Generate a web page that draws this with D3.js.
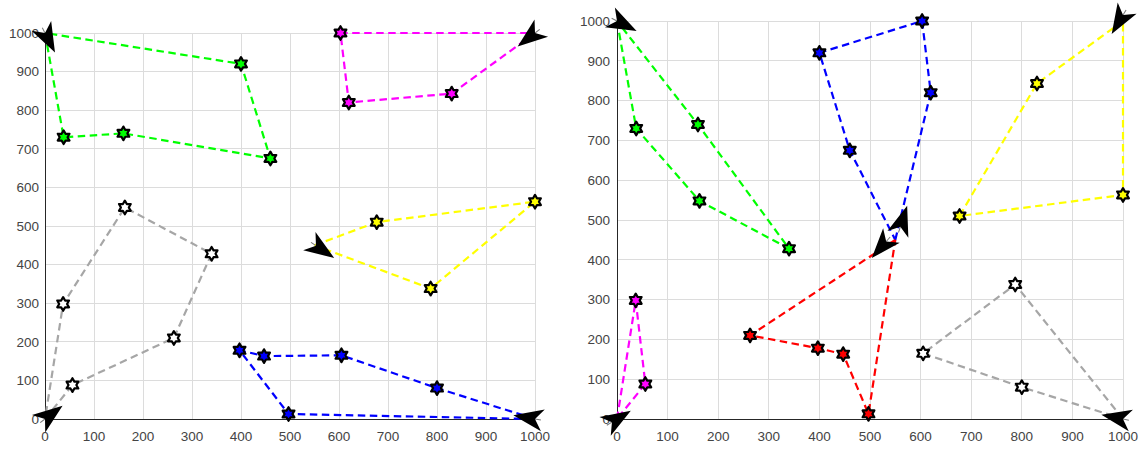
<!DOCTYPE html>
<html>
<head>
<meta charset="utf-8">
<script src="https://cdn.jsdelivr.net/npm/d3@7"></script>
<style>
  html, body { margin: 0; padding: 0; background: #fff; }
  svg { display: block; }
  text { font-family: "Liberation Sans", Arial, Helvetica, sans-serif; }
</style>
</head>
<body>
<svg id="chart" width="1146" height="450"></svg>
<script>
// ---------- data ----------
const tickValues = [0, 100, 200, 300, 400, 500, 600, 700, 800, 900, 1000];
const tickLabels = ["0", "100", "200", "300", "400", "500", "600", "700", "800", "900", "1000"];

// Left panel routes (depot -> customers -> depot)
const leftGreen   = [[0, 1000], [38, 730], [160, 740], [460, 675], [400, 920], [0, 1000]];
const leftMagenta = [[1000, 1000], [830, 843], [620, 820], [603, 1000], [1000, 1000]];
const leftYellow  = [[550, 450], [677, 510], [1000, 563], [787, 338], [550, 450]];
const leftBlue    = [[1000, 0], [800, 80], [605, 165], [447, 163], [397, 178], [497, 13], [1000, 0]];
const leftGray    = [[0, 0], [56, 88], [263, 210], [340, 428], [163, 548], [37, 298], [0, 0]];

// Right panel routes
const rightGreen   = [[0, 1000], [38, 730], [163, 548], [340, 428], [160, 740], [0, 1000]];
const rightBlue    = [[550, 450], [620, 820], [603, 1000], [400, 920], [460, 675], [550, 450]];
const rightYellow  = [[1000, 1000], [830, 843], [677, 510], [1000, 563], [1000, 1000]];
const rightMagenta = [[0, 0], [37, 298], [56, 88], [0, 0]];
const rightRed     = [[550, 450], [263, 210], [397, 178], [447, 163], [497, 13], [550, 450]];
const rightGray    = [[1000, 0], [787, 338], [605, 165], [800, 80], [1000, 0]];

// Depot arrows: [x, y, heading in degrees]
const leftArrows  = [[0, 1000, 63], [1000, 1000, 142], [0, 0, -37], [1000, 0, 190], [553, 449, 34]];
const rightArrows = [[0, 1000, 27], [1000, 1015, 121], [-10, -8, -31], [1000, 0, 191], [560, 483, -72], [532, 446, 131]];

// ---------- styles ----------
const colors = { green: "#00ff00", magenta: "#ff00ff", yellow: "#ffff00", blue: "#0000ff", gray: "#a6a6a6", red: "#ff0000" };

const panels = [
  { x0: 45, x1: 535, y0: 419, y1: 33,
    routes: [[leftGreen, "green"], [leftMagenta, "magenta"], [leftYellow, "yellow"], [leftBlue, "blue"], [leftGray, "gray"]],
    arrows: leftArrows, labelGap: 6 },
  { x0: 617, x1: 1123, y0: 419, y1: 21,
    routes: [[rightGreen, "green"], [rightBlue, "blue"], [rightYellow, "yellow"], [rightMagenta, "magenta"], [rightRed, "red"], [rightGray, "gray"]],
    arrows: rightArrows, labelGap: 7 }
];

const svg = d3.select("#chart");
svg.append("rect").attr("width", 1146).attr("height", 450).attr("fill", "#fff");

function hexagram(R) {
  const r = R / Math.sqrt(3);
  const pts = [];
  for (let i = 0; i < 12; i++) {
    const a = -Math.PI / 2 + i * Math.PI / 6;
    const rad = i % 2 === 0 ? R : r;
    pts.push([rad * Math.cos(a), rad * Math.sin(a)]);
  }
  return "M" + pts.map(p => p[0].toFixed(2) + "," + p[1].toFixed(2)).join("L") + "Z";
}
const starPath = hexagram(6.8);

panels.forEach(p => {
  const x = d3.scaleLinear().domain([0, 1000]).range([p.x0, p.x1]);
  const y = d3.scaleLinear().domain([0, 1000]).range([p.y0, p.y1]);
  const g = svg.append("g");

  // grid
  g.selectAll(".vg").data(tickValues).join("line")
    .attr("x1", d => x(d)).attr("x2", d => x(d))
    .attr("y1", y(0)).attr("y2", y(1000))
    .attr("stroke", "#dcdcdc").attr("stroke-width", 1).attr("shape-rendering", "crispEdges");
  g.selectAll(".hg").data(tickValues).join("line")
    .attr("y1", d => y(d)).attr("y2", d => y(d))
    .attr("x1", x(0)).attr("x2", x(1000))
    .attr("stroke", "#dcdcdc").attr("stroke-width", 1).attr("shape-rendering", "crispEdges");

  // axes (left and bottom)
  g.append("line").attr("x1", x(0)).attr("x2", x(0)).attr("y1", y(0)).attr("y2", y(1000))
    .attr("stroke", "#262626").attr("stroke-width", 1).attr("shape-rendering", "crispEdges");
  g.append("line").attr("x1", x(0)).attr("x2", x(1000)).attr("y1", y(0)).attr("y2", y(0))
    .attr("stroke", "#262626").attr("stroke-width", 1).attr("shape-rendering", "crispEdges");

  // tick labels
  g.selectAll(".xl").data(tickValues).join("text")
    .attr("x", d => x(d)).attr("y", y(0) + 22)
    .attr("text-anchor", "middle").attr("font-size", 13.5).attr("fill", "#444")
    .text((d, i) => tickLabels[i]);
  g.selectAll(".yl").data(tickValues).join("text")
    .attr("x", x(0) - p.labelGap).attr("y", d => y(d)).attr("dy", "0.35em")
    .attr("text-anchor", "end").attr("font-size", 13.5).attr("fill", "#444")
    .text((d, i) => tickLabels[i]);

  const line = d3.line().x(d => x(d[0])).y(d => y(d[1]));

  // route lines
  p.routes.forEach(([pts, c]) => {
    g.append("path").attr("d", line(pts))
      .attr("fill", "none").attr("stroke", colors[c]).attr("stroke-width", 2.2)
      .attr("stroke-dasharray", "7.5,4.5");
  });

  // customer markers
  p.routes.forEach(([pts, c]) => {
    g.selectAll(null).data(pts.slice(1, -1)).join("path")
      .attr("d", starPath)
      .attr("transform", d => `translate(${x(d[0])},${y(d[1])})`)
      .attr("fill", c === "gray" ? "#ffffff" : colors[c])
      .attr("stroke", "#000").attr("stroke-width", 2.2).attr("stroke-linejoin", "round");
  });

  // depot arrows
  p.arrows.forEach(a => {
    const ag = g.append("g").attr("transform", `translate(${x(a[0])},${y(a[1])}) rotate(${a[2]})`);
    ag.append("line").attr("x1", 0).attr("y1", 0).attr("x2", -6).attr("y2", 0)
      .attr("stroke", "#777").attr("stroke-width", 1);
    ag.append("path").attr("d", "M22,0 L-8,-11 L0,0 L-8,11 Z").attr("fill", "#000");
  });
});
</script>
</body>
</html>
